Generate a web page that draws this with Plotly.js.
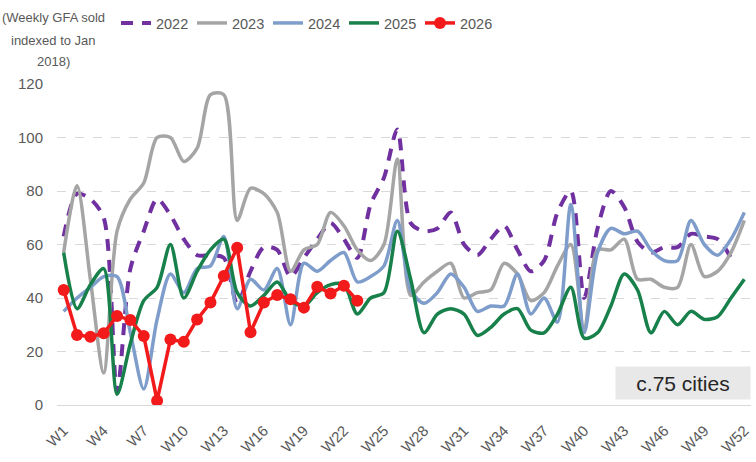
<!DOCTYPE html>
<html>
<head>
<meta charset="utf-8">
<script src="https://cdn.plot.ly/plotly-3.0.1.min.js"></script>
<style>html,body{margin:0;padding:0;background:#fff;}#chart{width:756px;height:462px;}</style>
</head>
<body>
<div id="chart"></div>
<script>
const weeks = ["W1","W2","W3","W4","W5","W6","W7","W8","W9","W10","W11","W12","W13","W14","W15","W16","W17","W18","W19","W20","W21","W22","W23","W24","W25","W26","W27","W28","W29","W30","W31","W32","W33","W34","W35","W36","W37","W38","W39","W40","W41","W42","W43","W44","W45","W46","W47","W48","W49","W50","W51","W52"];
const tickWeeks = ["W1","W4","W7","W10","W13","W16","W19","W22","W25","W28","W31","W34","W37","W40","W43","W46","W49","W52"];

const y2022 = [63,79,77,70,5,51,65,77,71,62,56,56,55,38,50,59,58,48,55,62,68,62,55,75,85,103,68,65,66,72,60,56,62,67,58,50,54,72,80,40,66,80,74,61,57,59,59,64,63,62,55];
const y2023 = [57,82,47,12,65,77,83,100,100,91,96,116,116,69,81,79,72,50,58,60,72,67,58,54,60,92,41,46,50,53,40,42,43,53,49,39,42,52,60,28,58,58,62,47,47,44,44,60,48,50,57,69];
const y2024 = [35,40,44,48,48,27,6,32,49,42,51,52,63,36,47,43,51,30,53,50,54,57,46,48,52,69,43,38,42,49,44,35,37,37,49,34,40,31,75,27,57,66,64,65,58,54,54,69,60,56,62,72];
const y2025 = [57,36,45,51,4,23,39,44,60,40,50,58,62,42,37,41,46,39,37,42,45,45,34,40,42,65,47,27,34,36,34,26,29,34,36,28,27,34,44,25,27,37,49,43,27,35,30,35,32,33,40,47];
const y2026 = [43,26.2,25.5,26.8,33.3,31.8,25.8,1.6,24.5,23.6,32,38.3,48.2,58.8,27.2,38.3,41.1,39.5,36.4,44.2,41.7,44.6,39];

const titleLines = ['(Weekly GFA sold', 'indexed to Jan', '2018)'];

const FONT = "'Liberation Sans', Arial, sans-serif";
const TXT = '#595959';

function line(name, y, color, extra) {
  return Object.assign({
    type: 'scatter', mode: 'lines', name: name,
    x: weeks.slice(0, y.length), y: y,
    line: {color: color, width: 3.5, shape: 'spline', smoothing: 0.8},
    hoverinfo: 'skip'
  }, extra || {});
}

const traces = [
  line('2022', y2022, '#7030A0', {line: {color: '#7030A0', width: 4, shape: 'spline', smoothing: 0.8, dash: '12px,9px'}}),
  line('2023', y2023, '#A5A5A5'),
  line('2024', y2024, '#7F9DCB'),
  line('2025', y2025, '#18804A'),
  line('2026', y2026, '#F21A1A', {mode: 'lines+markers', line: {color: '#F21A1A', width: 3.5}, marker: {color: '#F21A1A', size: 12}})
];

// y-title lines, centred at x≈54px, y≈18/40/62px
const titleY = [1.206, 1.137, 1.069];
const titleAnns = titleLines.map((t, i) => ({
  xref: 'paper', yref: 'paper', x: -0.0045, y: titleY[i], xanchor: 'center', yanchor: 'middle',
  text: t, showarrow: false, font: {family: FONT, size: 13, color: TXT}
}));

const layout = {
  width: 756, height: 462,
  margin: {l: 57, r: 5, t: 84, b: 57},
  paper_bgcolor: '#ffffff', plot_bgcolor: '#ffffff',
  font: {family: FONT, size: 15, color: TXT},
  showlegend: true,
  legend: {orientation: 'h', x: 0.085, xanchor: 'left', y: 1.19, yanchor: 'middle',
           font: {family: FONT, size: 14.5, color: TXT}, traceorder: 'normal',
           entrywidth: 31, entrywidthmode: 'pixels', itemwidth: 30},
  xaxis: {type: 'category', categoryorder: 'array', categoryarray: weeks,
          range: [-0.5, 51.5], tickmode: 'array', tickvals: tickWeeks, ticktext: tickWeeks,
          tickangle: -45, showgrid: false, showline: true, linecolor: '#D9D9D9', linewidth: 1,
          ticks: '', ticklabelstandoff: 10, tickfont: {family: FONT, size: 15, color: TXT}, fixedrange: true},
  yaxis: {range: [0, 120], tickvals: [0,20,40,60,80,100,120], showgrid: true,
          gridcolor: '#D9D9D9', griddash: 'dash', gridwidth: 1, zeroline: false,
          showline: false, ticks: '', ticklabelstandoff: 13, tickfont: {family: FONT, size: 15, color: TXT}, fixedrange: true},
  annotations: titleAnns.concat([
    {xref: 'paper', yref: 'paper', x: 1.0, y: 0.0156, xanchor: 'right', yanchor: 'bottom',
     text: 'c.75 cities', showarrow: false, bgcolor: '#E8E8E8', width: 134, height: 32, borderpad: 0,
     font: {family: FONT, size: 21, color: '#262626'}}
  ])
};

Plotly.newPlot('chart', traces, layout, {staticPlot: true, displayModeBar: false});
</script>
</body>
</html>
